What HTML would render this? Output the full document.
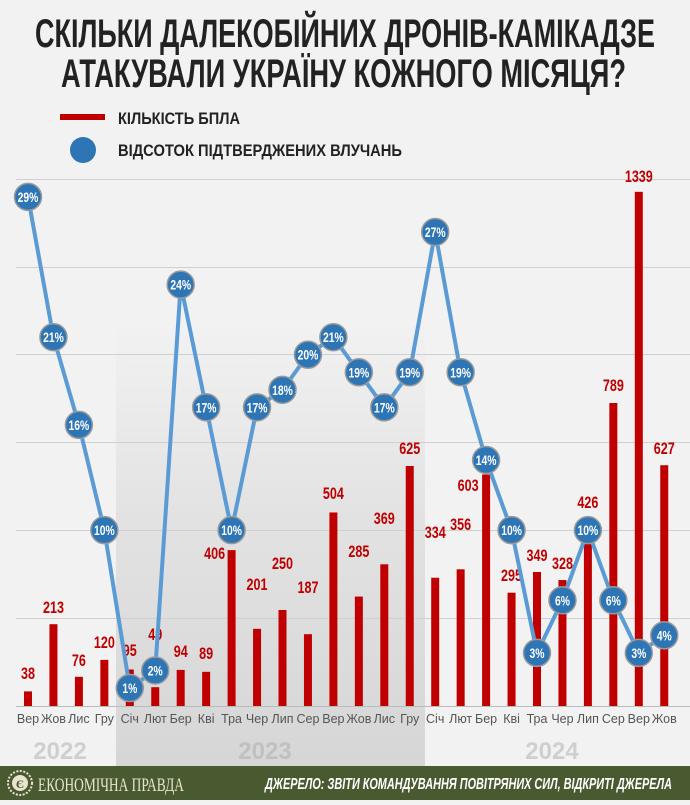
<!DOCTYPE html>
<html><head><meta charset="utf-8"><style>
body{margin:0;width:690px;height:800px;background:#f2f2f2;overflow:hidden}
text{font-family:"Liberation Sans",sans-serif}
</style></head><body>
<svg width="690" height="800" viewBox="0 0 690 800" xmlns="http://www.w3.org/2000/svg">
<defs><linearGradient id="g" x1="0" y1="0" x2="0" y2="1">
<stop offset="0" stop-color="#f2f2f2"/><stop offset="0.45" stop-color="#e2e2e2"/><stop offset="1" stop-color="#d6d6d6"/></linearGradient></defs>
<rect x="116" y="320" width="309" height="446" fill="url(#g)"/>
<text x="35" y="47" textLength="620" lengthAdjust="spacingAndGlyphs" font-size="40" font-weight="bold" fill="#222">СКІЛЬКИ ДАЛЕКОБІЙНИХ ДРОНІВ-КАМІКАДЗЕ</text>
<text x="61" y="87" textLength="565" lengthAdjust="spacingAndGlyphs" font-size="40" font-weight="bold" fill="#222">АТАКУВАЛИ УКРАЇНУ КОЖНОГО МІСЯЦЯ?</text>
<rect x="60" y="114" width="45" height="6" fill="#c00000"/>
<text x="118" y="124" textLength="122" lengthAdjust="spacingAndGlyphs" font-size="17" font-weight="bold" fill="#222">КІЛЬКІСТЬ БПЛА</text>
<circle cx="83" cy="150" r="13" fill="#2e75b6"/>
<text x="118" y="156" textLength="284" lengthAdjust="spacingAndGlyphs" font-size="17" font-weight="bold" fill="#222">ВІДСОТОК ПІДТВЕРДЖЕНИХ ВЛУЧАНЬ</text>
<g stroke="#d0d0d0" stroke-width="1">
<line x1="16" x2="690" y1="179.5" y2="179.5"/><line x1="16" x2="690" y1="267.5" y2="267.5"/>
<line x1="16" x2="690" y1="354.5" y2="354.5"/><line x1="16" x2="690" y1="442.5" y2="442.5"/>
<line x1="16" x2="690" y1="530.5" y2="530.5"/><line x1="16" x2="690" y1="618.5" y2="618.5"/>
<line x1="16" x2="690" y1="706.5" y2="706.5" stroke="#bbb"/></g>
<g id="chart"></g>
<text x="60" y="759" text-anchor="middle" font-size="24" font-weight="bold" fill="#cfcfcf">2022</text>
<text x="265" y="759" text-anchor="middle" font-size="24" font-weight="bold" fill="#c0c0c0">2023</text>
<text x="552" y="759" text-anchor="middle" font-size="24" font-weight="bold" fill="#cfcfcf">2024</text>
<rect x="0" y="766" width="690" height="34" fill="#4a5a30"/>
<circle cx="20" cy="783" r="12" fill="none" stroke="#e8e4d0" stroke-width="2" stroke-dasharray="2 1.5"/>
<circle cx="20" cy="783" r="8" fill="#e8e4d0"/>
<text x="20" y="788" text-anchor="middle" font-size="12" font-weight="bold" fill="#4a5a30" style="font-family:'Liberation Serif',serif">Є</text>
<text x="38" y="791" textLength="146" lengthAdjust="spacingAndGlyphs" font-size="19" fill="#e8e4d0" style="font-family:'Liberation Serif',serif">ЕКОНОМІЧНА ПРАВДА</text>
<text x="265" y="789" textLength="407" lengthAdjust="spacingAndGlyphs" font-size="16" font-weight="bold" font-style="italic" fill="#fff">ДЖЕРЕЛО: ЗВІТИ КОМАНДУВАННЯ ПОВІТРЯНИХ СИЛ, ВІДКРИТІ ДЖЕРЕЛА</text>
</svg>
<script>
var b=[38,213,76,120,95,49,94,89,406,201,250,187,504,285,369,625,334,356,603,295,349,328,426,789,1339,627];
var p=[29,21,16,10,1,2,24,17,10,17,18,20,21,19,17,19,27,19,14,10,3,6,10,6,3,4];
var ly=[673,607,660,642,650,634,651,653,553,584,563,587,493,551,518,448,532,524,485,575,555,563,502,385,176,448];
var lxo={8:-17,18:-18};
var m=["Вер","Жов","Лис","Гру","Січ","Лют","Бер","Кві","Тра","Чер","Лип","Сер","Вер","Жов","Лис","Гру","Січ","Лют","Бер","Кві","Тра","Чер","Лип","Сер","Вер","Жов"];
function t(x,y,str,sz,fill){return '<g transform="translate('+x+','+y+') scale(0.74,1)"><text x="0" y="0" text-anchor="middle" font-size="'+sz+'" font-weight="bold" fill="'+fill+'">'+str+'</text></g>';}
var s="",pts=[],c="";
for(var i=0;i<26;i++){var x=28+i*25.45;var h=b[i]*0.384;
s+='<rect x="'+(x-4)+'" y="'+(706-h)+'" width="8" height="'+h+'" fill="#c00000"/>';
s+=t(x+(lxo[i]||0),ly[i]+6,b[i],17,"#c00000");
s+='<text x="'+x+'" y="723" text-anchor="middle" font-size="12.5" fill="#555">'+m[i]+'</text>';
var y=688-(p[i]-1)*17.54;pts.push(x+','+y);
c+='<circle cx="'+x+'" cy="'+y+'" r="13.5" fill="#2e75b6" stroke="#9a9a9a" stroke-width="1.5"/>'+t(x,y+5,p[i]+'%',14,"#fff");}
s+='<polyline points="'+pts.join(' ')+'" fill="none" stroke="#5b9bd5" stroke-width="4" stroke-linejoin="round"/>'+c;
document.getElementById("chart").innerHTML=s;
</script>
</body></html>
